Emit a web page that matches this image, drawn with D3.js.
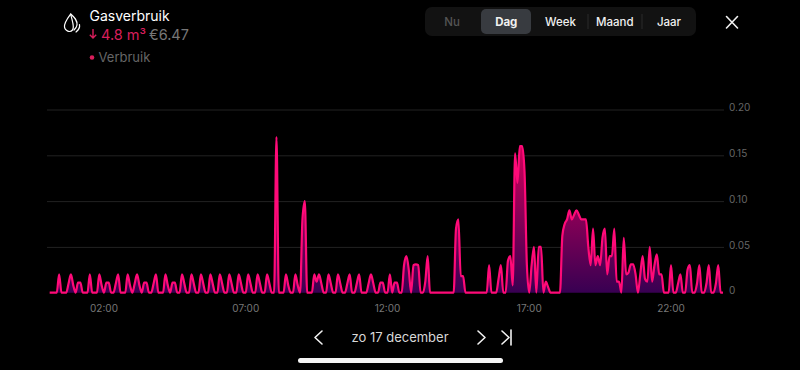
<!DOCTYPE html>
<html>
<head>
<meta charset="utf-8">
<script src="https://cdn.jsdelivr.net/npm/d3@7"></script>
<style>
html, body { margin: 0; padding: 0; background: #000; overflow: hidden; }
text { font-family: Inter, "Noto Sans", sans-serif; }
</style>
</head>
<body>
<div id="chart"></div>
<script>
// verbruik per 5 minuten, een rij per uur
const usage = [
    null, 0, 0, 0, 0, .02, 0, 0, 0, .01, .02, .008,
    0, .011, .011, 0, 0, 0, .02, 0, 0, 0, .02, .008,
    0, .011, .011, 0, 0, .01, .02, 0, 0, 0, .02, .008,
    0, .01, .02, .008, 0, .011, .011, 0, 0, .01, .02, 0,
    0, 0, .02, .008, 0, .011, .011, 0, 0, .02, .01, 0,
    0, .02, .01, 0, 0, .02, .01, 0, 0, .02, .01, 0,
    0, .02, .01, 0, 0, .02, .01, 0, 0, .02, .01, 0,
    0, .02, .01, 0, 0, .02, .01, 0, 0, .02, .01, 0,
    0, .17, 0, 0, 0, .02, .008, 0, 0, .02, .008, 0,
    .08, .10, 0, 0, 0, .02, .012, .02, .01, 0, 0, .02,
    .01, 0, 0, .02, .01, 0, 0, .01, .02, 0, 0, .01,
    .02, 0, 0, 0, .01, .02, .01, 0, 0, .011, .011, 0,
    0, .02, 0, .011, .011, 0, 0, .03, .04, .025, 0, .03,
    .031, .03, 0, 0, .012, .04, 0, 0, 0, 0, 0, 0,
    0, 0, 0, 0, 0, .07, .08, .018, .018, 0, 0, 0,
    0, 0, 0, 0, 0, 0, 0, .03, 0, 0, 0, .015,
    .03, 0, 0, .035, .04, .008, .152, .12, .16, .16, .132, .03,
    0, .03, .05, 0, .05, .05, 0, .012, .006, 0, 0, 0,
    0, 0, .062, .075, .08, .09, .08, .085, .09, .085, .08, .08,
    .08, .05, .03, .07, .03, .04, .03, .06, .07, .02, .04, .04,
    .07, .012, .012, 0, .06, .02, .022, .031, .031, .02, 0, .02,
    .04, .015, .012, .05, .012, .03, .042, .02, .02, 0, 0, 0,
    .03, 0, 0, .01, .02, 0, 0, .025, .03, 0, 0, .01,
    .03, 0, 0, .01, .03, 0, 0, .01, .03, 0, 0, null
];
const minutes = usage.map((d, i) => i * 5);

const hourTicks = [120, 420, 720, 1020, 1320];
const hourLabels = ["02:00", "07:00", "12:00", "17:00", "22:00"];
const yTicks = [0, 0.05, 0.10, 0.15, 0.20];
const yLabels = ["0", "0.05", "0.10", "0.15", "0.20"];
const periods = ["Nu", "Dag", "Week", "Maand", "Jaar"];

const width = 800;
const height = 370;

const svg = d3.select("#chart")
    .append("svg")
    .attr("width", width)
    .attr("height", height)
    .style("display", "block");

const x = d3.scaleLinear()
    .domain([0, 1440])
    .range([47.3, 727.7]);

const y = d3.scaleLinear()
    .domain([0, 0.2])
    .range([292.7, 109.5]);

const points = minutes
    .map((m, i) => ({ m: m, v: usage[i] }))
    .filter(d => d.v !== null);

const defs = svg.append("defs");
const grad = defs.append("linearGradient")
    .attr("id", "fillGrad")
    .attr("gradientUnits", "userSpaceOnUse")
    .attr("x1", 0).attr("x2", 0)
    .attr("y1", y(0.16)).attr("y2", y(0));
grad.append("stop").attr("offset", "0").attr("stop-color", "#d0005a");
grad.append("stop").attr("offset", "1").attr("stop-color", "#380052");

// rasterlijnen + labels rechts
const yAxis = d3.axisRight(y)
    .tickValues(yTicks.slice(1))
    .tickSize(677)
    .tickFormat((d, i) => yLabels[i + 1]);

const yG = svg.append("g")
    .attr("transform", "translate(47,0)")
    .call(yAxis);
yG.select(".domain").remove();
yG.selectAll("line").attr("stroke", "#222");
yG.selectAll("text")
    .attr("x", 682)
    .attr("dy", "0.12em")
    .attr("fill", "#666")
    .style("font-size", "10px");

svg.append("text")
    .attr("x", 729)
    .attr("y", y(0) - 2)
    .attr("dy", "0.32em")
    .attr("fill", "#666")
    .style("font-size", "10px")
    .text(yLabels[0]);

const area = d3.area()
    .x(d => x(d.m))
    .y0(y(0))
    .y1(d => y(d.v))
    .curve(d3.curveMonotoneX);

const line = d3.line()
    .x(d => x(d.m))
    .y(d => y(d.v))
    .curve(d3.curveMonotoneX);

svg.append("path")
    .datum(points)
    .attr("d", area)
    .attr("fill", "url(#fillGrad)");

svg.append("path")
    .datum(points)
    .attr("d", line)
    .attr("fill", "none")
    .attr("stroke", "#ff0a78")
    .attr("stroke-width", 2.2)
    .attr("stroke-linejoin", "round");

const xAxis = d3.axisBottom(x)
    .tickValues(hourTicks)
    .tickSize(0)
    .tickFormat((d, i) => hourLabels[i]);

const xG = svg.append("g")
    .attr("transform", "translate(-0.5,305)")
    .call(xAxis);
xG.select(".domain").remove();
xG.selectAll("text")
    .attr("y", 0)
    .attr("dy", "0.71em")
    .attr("fill", "#777")
    .style("font-size", "10px");

// kop
const flame = svg.append("g")
    .attr("fill", "none")
    .attr("stroke", "#fff")
    .attr("stroke-width", 1.2)
    .attr("stroke-linecap", "round")
    .attr("stroke-linejoin", "round");
flame.append("path").attr("d", "M70.7 14 C67 19 64 23 64.5 27 C65 31 70 33 72.5 30 C75 27 72 21 70.7 14 Z");
flame.append("path").attr("d", "M70.7 14 C74 17 77.5 20 77 25 C76.8 27 75.5 28.5 74 30");
flame.append("path").attr("d", "M79.5 24.5 C80 27 78.5 30 76 32");

svg.append("text")
    .attr("x", 89.5).attr("y", 21)
    .attr("fill", "#fff")
    .style("font-size", "14px")
    .text("Gasverbruik");

svg.append("path")
    .attr("d", "M93 29 L93 38 M89.8 34.8 L93 38 L96.2 34.8")
    .attr("fill", "none")
    .attr("stroke", "#d81e5b")
    .attr("stroke-width", 1.4);

svg.append("text")
    .attr("x", 101).attr("y", 40)
    .attr("fill", "#d81e5b")
    .style("font-size", "14.5px")
    .text("4.8 m³");

svg.append("text")
    .attr("x", 149).attr("y", 40)
    .attr("fill", "#777")
    .style("font-size", "14.5px")
    .text("€6.47");

svg.append("circle")
    .attr("cx", 92).attr("cy", 57.5).attr("r", 2.3)
    .attr("fill", "#d81e5b");
svg.append("text")
    .attr("x", 98.5).attr("y", 62)
    .attr("fill", "#666")
    .style("font-size", "13px")
    .text("Verbruik");

// periode-knoppen
svg.append("rect")
    .attr("x", 425).attr("y", 7)
    .attr("width", 271).attr("height", 29)
    .attr("rx", 7)
    .attr("fill", "#121212");
svg.append("rect")
    .attr("x", 481).attr("y", 9)
    .attr("width", 50).attr("height", 25)
    .attr("rx", 5)
    .attr("fill", "#383b40");

const periodX = d3.scalePoint()
    .domain(periods)
    .range([452, 669]);

svg.selectAll(".period")
    .data(periods)
    .enter()
    .append("text")
    .attr("class", "period")
    .attr("x", d => periodX(d))
    .attr("y", 26)
    .attr("text-anchor", "middle")
    .attr("fill", d => d === "Nu" ? "#555" : "#f0f0f0")
    .style("font-size", "11.5px")
    .style("font-weight", d => d === "Dag" ? 700 : 500)
    .text(d => d);

svg.selectAll(".sep")
    .data([588, 642])
    .enter()
    .append("line")
    .attr("x1", d => d).attr("x2", d => d)
    .attr("y1", 14).attr("y2", 29)
    .attr("stroke", "#2a2a2a");

const icons = svg.append("g")
    .attr("fill", "none")
    .attr("stroke", "#f2f2f2")
    .attr("stroke-width", 1.6)
    .attr("stroke-linecap", "round")
    .attr("stroke-linejoin", "round");
icons.append("path").attr("d", "M726.5 16.5 L737.5 28 M737.5 16.5 L726.5 28");
icons.append("path").attr("d", "M322 331 L315 337.5 L322 344");
icons.append("path").attr("d", "M478 331 L485 337.5 L478 344");
icons.append("path").attr("d", "M502 331 L509 337.5 L502 344");
icons.append("path").attr("d", "M511 330 L511 345");

svg.append("text")
    .attr("x", 400).attr("y", 342)
    .attr("text-anchor", "middle")
    .attr("fill", "#d8d8d8")
    .style("font-size", "13px")
    .text("zo 17 december");

svg.append("rect")
    .attr("x", 298).attr("y", 358)
    .attr("width", 205).attr("height", 5)
    .attr("rx", 2.5)
    .attr("fill", "#f4f4f4");
</script>
</body>
</html>
